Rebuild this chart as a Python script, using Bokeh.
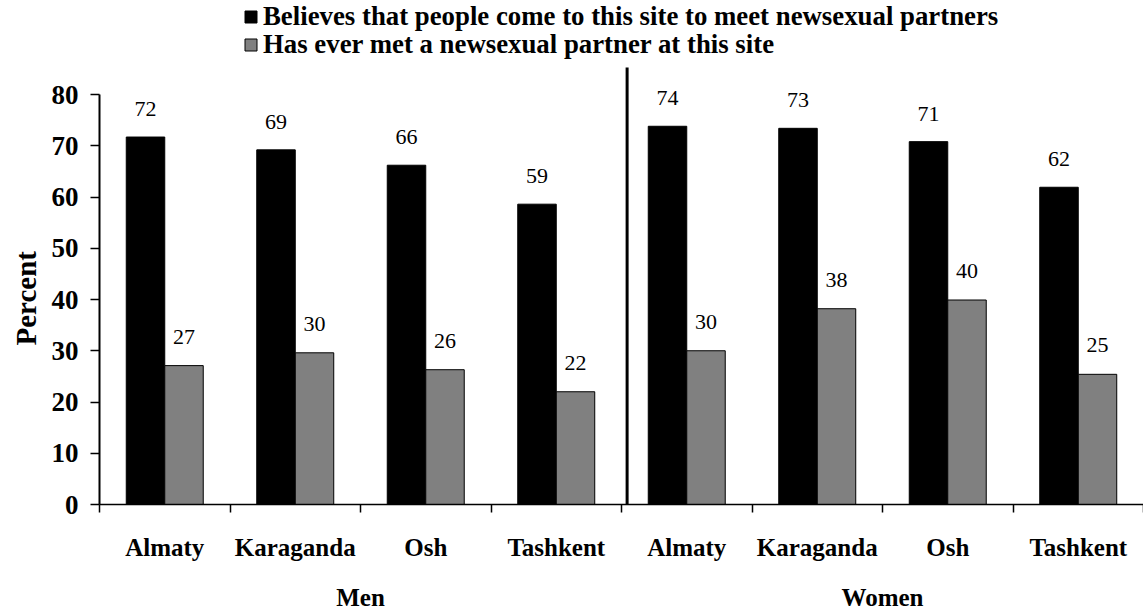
from bokeh.plotting import figure
from bokeh.models import (ColumnDataSource, FixedTicker, LinearAxis, Legend, LegendItem, Range1d, Title)
from bokeh.core.properties import value
from bokeh.embed import file_html
from bokeh.resources import INLINE

cities = ["Almaty", "Karaganda", "Osh", "Tashkent", "Almaty", "Karaganda", "Osh", "Tashkent"]
groups = ["Men", "Women"]
believes = [71.7, 69.2, 66.2, 58.6, 73.8, 73.4, 70.8, 61.9]
has_met = [27.1, 29.6, 26.3, 22.0, 30.0, 38.2, 39.9, 25.4]
series_names = ["Believes that people come to this site to meet newsexual partners",
                "Has ever met a newsexual partner at this site"]
y_ticks = [0, 10, 20, 30, 40, 50, 60, 70, 80]

FONT = "Liberation Serif"
n = len(cities)
centers = [i + 0.5 for i in range(n)]
bw = 0.295
W, H = 1143, 614
LEFT, BOTTOM = 96, 110
FRAME_H = H - BOTTOM                 # frame covers the whole top of the canvas
PX_PER_UNIT = 410 / 80
Y_END = FRAME_H / PX_PER_UNIT
DIV_TOP = 85.27

src = ColumnDataSource(dict(
    xb=[c - bw / 2 for c in centers],
    xg=[c + bw / 2 for c in centers],
    b=believes, g=has_met,
    bl=[str(int(round(v))) for v in believes],
    gl=[str(int(round(v))) for v in has_met],
))

p = figure(width=W, height=H, output_backend="svg", toolbar_location=None,
           x_range=Range1d(0, n), y_range=Range1d(0, Y_END),
           min_border_left=LEFT, min_border_right=0, min_border_top=0, min_border_bottom=BOTTOM)
p.xaxis.visible = False
p.yaxis.visible = False
p.grid.visible = False
p.outline_line_color = None
p.background_fill_color = "white"
p.border_fill_color = "white"

r1 = p.vbar(x="xb", top="b", width=bw, bottom=0, source=src, fill_color="black", line_color="black", line_width=1)
r2 = p.vbar(x="xg", top="g", width=bw, bottom=0, source=src, fill_color="#808080", line_color="black", line_width=1)

p.text(x="xb", y="b", text="bl", source=src, text_align="center", text_baseline="middle", y_offset=-28,
       text_font=value(FONT), text_font_style="normal", text_font_size="22px", text_color="black")
p.text(x="xg", y="g", text="gl", source=src, text_align="center", text_baseline="middle", y_offset=-29,
       text_font=value(FONT), text_font_style="normal", text_font_size="22px", text_color="black")

# divider between Men and Women
p.segment(x0=[4.043], y0=[0], x1=[4.043], y1=[DIV_TOP], line_color="black", line_width=3)

# y axis
yax = LinearAxis(ticker=FixedTicker(ticks=y_ticks), bounds=(0, 80))
yax.axis_line_width = 2
yax.axis_line_color = "black"
yax.major_tick_out = 9
yax.major_tick_in = 0
yax.major_tick_line_width = 1.5
yax.minor_tick_out = 0
yax.minor_tick_in = 0
yax.major_label_standoff = 12
yax.major_label_text_font = FONT
yax.major_label_text_font_style = "bold"
yax.major_label_text_font_size = "27px"
yax.major_label_text_color = "black"
p.add_layout(yax, "left")

p.add_layout(Title(text="Percent", align="left", offset=159, standoff=14,
                   text_font=FONT, text_font_style="bold", text_font_size="29px", text_color="black"), "left")

# x axis: city labels at centers, boundary ticks as minor ticks
xax = LinearAxis(ticker=FixedTicker(ticks=centers, minor_ticks=list(range(n + 1))), bounds=(0, n))
xax.major_label_overrides = {c: name for c, name in zip(centers, cities)}
xax.axis_line_width = 1.5
xax.axis_line_color = "black"
xax.major_tick_out = 0
xax.major_tick_in = 0
xax.minor_tick_out = 8
xax.minor_tick_in = 0
xax.minor_tick_line_width = 1.5
xax.major_label_standoff = 21
xax.major_label_text_font = FONT
xax.major_label_text_font_style = "bold"
xax.major_label_text_font_size = "25px"
xax.major_label_text_color = "black"
p.add_layout(xax, "below")

group_centers = [2, 6]
gax = LinearAxis(ticker=FixedTicker(ticks=group_centers))
gax.major_label_overrides = {c: g for c, g in zip(group_centers, groups)}
gax.axis_line_color = None
gax.major_tick_line_color = None
gax.minor_tick_line_color = None
gax.major_tick_out = 0
gax.minor_tick_out = 0
gax.major_label_standoff = 20
gax.major_label_text_font = FONT
gax.major_label_text_font_style = "bold"
gax.major_label_text_font_size = "25px"
gax.major_label_text_color = "black"
p.add_layout(gax, "below")

# legends (one per series), inside the tall frame above the bars
def mk_legend(r, label, loc):
    lg = Legend(items=[LegendItem(label=label, renderers=[r])], location=loc)
    lg.padding = 0
    lg.margin = 0
    lg.border_line_color = None
    lg.background_fill_alpha = 0
    lg.glyph_width = 15
    lg.glyph_height = 15
    lg.label_standoff = 5
    lg.label_text_font = FONT
    lg.label_text_font_style = "bold"
    lg.label_text_font_size = "26.8px"
    lg.label_text_color = "black"
    lg.label_height = 20
    return lg

p.add_layout(mk_legend(r1, series_names[0], (144, FRAME_H - 32)))
p.add_layout(mk_legend(r2, series_names[1], (144, FRAME_H - 60)))

open("out.html", "w").write(file_html(p, INLINE))
